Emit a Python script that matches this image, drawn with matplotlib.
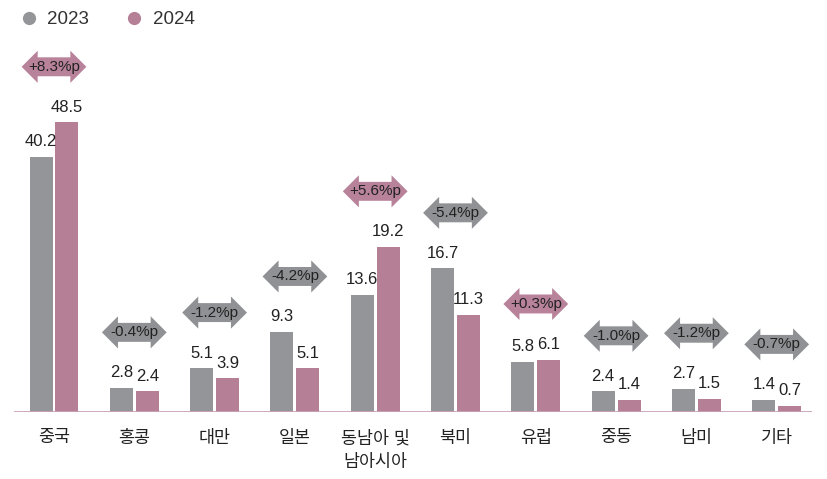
import numpy as np
import matplotlib
matplotlib.use("Agg")
import matplotlib.pyplot as plt
from matplotlib.path import Path
from matplotlib.lines import Line2D

plt.rcParams['font.family'] = ['Liberation Sans', 'Noto Sans CJK KR', 'DejaVu Sans']

categories = ['중국', '홍콩', '대만', '일본', '동남아 및\n남아시아', '북미', '유럽', '중동', '남미', '기타']
values_2023 = [40.2, 2.8, 5.1, 9.3, 13.6, 16.7, 5.8, 2.4, 2.7, 1.4]
values_2024 = [48.5, 2.4, 3.9, 5.1, 19.2, 11.3, 6.1, 1.4, 1.5, 0.7]
changes = ['+8.3%p', '-0.4%p', '-1.2%p', '-4.2%p', '+5.6%p', '-5.4%p', '+0.3%p', '-1.0%p', '-1.2%p', '-0.7%p']
series_names = ['2023', '2024']

GRAY = '#939598'
PINK = '#b57f96'
ARROW_GRAY = '#8f9194'
ARROW_PINK = '#b7829a'
BASE = '#c9a2b5'
TXT = '#222222'

# compressed scale above 20 (the chart shortens the tallest bars)
BREAK, RATIO = 20.0, 0.48

def fwd(v):
    v = np.asarray(v, dtype=float)
    return np.where(v <= BREAK, v, BREAK + (v - BREAK) * RATIO)

def inv(u):
    u = np.asarray(u, dtype=float)
    return np.where(u <= BREAK, u, BREAK + (u - BREAK) / RATIO)

def darrow(x0, y0, width, height, mutation_size):
    m = mutation_size
    cx = x0 + width / 2.0
    cy = y0 + height / 2.0
    hw = 2.12 * m      # half total width
    bh = 0.62 * m      # body half height
    hh = 1.05 * m      # head half height
    hl = 1.05 * m      # head length
    verts = [
        (cx - hw, cy),
        (cx - hw + hl, cy + hh),
        (cx - hw + hl, cy + bh),
        (cx + hw - hl, cy + bh),
        (cx + hw - hl, cy + hh),
        (cx + hw, cy),
        (cx + hw - hl, cy - hh),
        (cx + hw - hl, cy - bh),
        (cx - hw + hl, cy - bh),
        (cx - hw + hl, cy - hh),
        (cx - hw, cy),
    ]
    codes = [Path.MOVETO] + [Path.LINETO] * 9 + [Path.CLOSEPOLY]
    return Path(verts, codes)

fig = plt.figure(figsize=(8.28, 4.79), dpi=100)
ax = fig.add_axes([14 / 828, 1 - 412 / 479, 798 / 828, 372 / 479])
ax.set_yscale('function', functions=(fwd, inv))

x = np.arange(len(categories))
w = 0.287
off = 0.161
b1 = ax.bar(x - off, values_2023, w, color=GRAY, zorder=2)
b2 = ax.bar(x + off, values_2024, w, color=PINK, zorder=2)

for bars, vals in ((b1, values_2023), (b2, values_2024)):
    for rect, v in zip(bars, vals):
        ax.annotate(f'{v:.1f}', (rect.get_x() + rect.get_width() / 2, v),
                    xytext=(0, 5.5), textcoords='offset points',
                    ha='center', va='bottom', fontsize=12, color=TXT, zorder=4)

for i, ch in enumerate(changes):
    top = max(values_2023[i], values_2024[i])
    col = ARROW_PINK if ch.startswith('+') else ARROW_GRAY
    ax.annotate(ch, (x[i], top), xytext=(0, 40), textcoords='offset points',
                ha='center', va='center', fontsize=11, color=TXT, zorder=5,
                bbox=dict(boxstyle=darrow, fc=col, ec='none'))

# group centers at ~54 px + 80.3 px per group
ax.set_xlim((14 - 54) / 80.3, (812 - 54) / 80.3)
ax.set_ylim(0, inv(372 / 8.6))
ax.axhline(0, color=BASE, lw=2, zorder=3)
for s in ax.spines.values():
    s.set_visible(False)
ax.set_yticks([])
ax.set_xticks(x)
ax.set_xticklabels(categories, fontsize=12.5, color=TXT, linespacing=1.55)
ax.tick_params(axis='x', length=0, pad=13)
ax.minorticks_off()

handles = [Line2D([], [], marker='o', ls='none', markersize=9.5, color=c, markeredgewidth=0)
           for c in (GRAY, PINK)]
fig.legend(handles, series_names, loc='upper left', bbox_to_anchor=(8 / 828, 1.0),
           ncol=2, frameon=False, fontsize=13.5, handletextpad=0.5, columnspacing=1.9,
           handlelength=1.0, borderaxespad=0.2, labelcolor='#333333')

fig.savefig('out.png', dpi=100)
